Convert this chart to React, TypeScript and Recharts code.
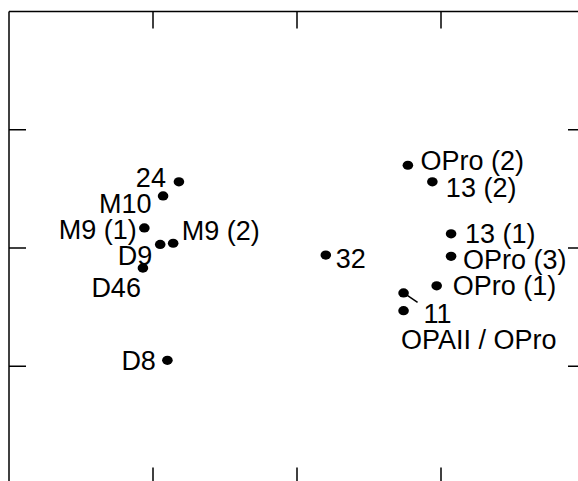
import React from "react";
import { ScatterChart, Scatter, XAxis, YAxis } from "recharts";

// Data
const names = ["24", "M10", "M9 (1)", "M9 (2)", "D9", "D46", "D8", "32", "OPro (2)", "13 (2)", "13 (1)", "OPro (3)", "OPro (1)", "11", "OPAII / OPro"];
const xs = [-0.82, -0.93, -1.06, -0.86, -0.95, -1.07, -0.90, 0.20, 0.77, 0.94, 1.07, 1.07, 0.97, 0.74, 0.74];
const ys = [0.56, 0.44, 0.17, 0.04, 0.03, -0.17, -0.95, -0.06, 0.70, 0.56, 0.12, -0.07, -0.32, -0.38, -0.53];

const xDomain = [-2, 2];
const yDomain = [-2, 2];
const xTicks = [-1, 0, 1];
const yTicks = [-1, 0, 1];

const data = names.map((n, i) => ({ name: n, x: xs[i], y: ys[i] }));

// Label layout (pixel offsets from each point) – style only
const labelLayout: Record<string, { dx: number; dy: number; anchor: "start" | "end"; leader?: number[] }> = {
  "24": { dx: -13, dy: -3.5, anchor: "end" },
  "M10": { dx: -11.5, dy: 8, anchor: "end" },
  "M9 (1)": { dx: -7.5, dy: 2.5, anchor: "end" },
  "M9 (2)": { dx: 8.5, dy: -12.5, anchor: "start" },
  "D9": { dx: -8, dy: 12, anchor: "end" },
  "D46": { dx: -2, dy: 19.5, anchor: "end" },
  "D8": { dx: -11.5, dy: 1, anchor: "end" },
  "32": { dx: 10, dy: 4, anchor: "start" },
  "OPro (2)": { dx: 12.5, dy: -4.5, anchor: "start" },
  "13 (2)": { dx: 13.5, dy: 6, anchor: "start" },
  "13 (1)": { dx: 14, dy: 0.5, anchor: "start" },
  "OPro (3)": { dx: 12, dy: 4, anchor: "start" },
  "OPro (1)": { dx: 16, dy: 0.5, anchor: "start" },
  "11": { dx: 20, dy: 21.5, anchor: "start", leader: [3, 2, 14, 9.5] },
  "OPAII / OPro": { dx: -2.5, dy: 29.5, anchor: "start" },
};

const FONT = "'Liberation Sans', Arial, Helvetica, sans-serif";

const PointShape = (props: any) => {
  const { cx, cy, payload } = props;
  if (cx == null || cy == null) return null;
  const l = labelLayout[payload.name];
  return (
    <g>
      <ellipse cx={cx} cy={cy} rx={5.3} ry={4.6} fill="#000" />
      {l && l.leader && (
        <line x1={cx + l.leader[0]} y1={cy + l.leader[1]} x2={cx + l.leader[2]} y2={cy + l.leader[3]} stroke="#000" strokeWidth={1.5} />
      )}
      {l && (
        <text x={cx + l.dx} y={cy + l.dy} textAnchor={l.anchor} dominantBaseline="central" fontFamily={FONT} fontSize={27} fill="#000">
          {payload.name}
        </text>
      )}
    </g>
  );
};

const NoTick = () => <g />;

const axisStyle = { stroke: "#000", strokeWidth: 1.5 };

export default function App() {
  return (
    <div style={{ position: "absolute", left: 0, top: 0 }}>
      <ScatterChart width={600} height={500} margin={{ top: 11.5, left: 9, right: 15, bottom: 15.5 }}>
        <XAxis xAxisId="b" type="number" dataKey="x" domain={xDomain} ticks={xTicks} orientation="bottom" mirror tick={NoTick} tickSize={17} height={1} axisLine={axisStyle} tickLine={axisStyle} allowDataOverflow />
        <XAxis xAxisId="t" type="number" dataKey="x" domain={xDomain} ticks={xTicks} orientation="top" mirror tick={NoTick} tickSize={17} height={1} axisLine={axisStyle} tickLine={axisStyle} allowDataOverflow />
        <YAxis yAxisId="l" type="number" dataKey="y" domain={yDomain} ticks={yTicks} orientation="left" mirror tick={NoTick} tickSize={17} width={1} axisLine={axisStyle} tickLine={axisStyle} allowDataOverflow />
        <YAxis yAxisId="r" type="number" dataKey="y" domain={yDomain} ticks={yTicks} orientation="right" mirror tick={NoTick} tickSize={17} width={1} axisLine={axisStyle} tickLine={axisStyle} allowDataOverflow />
        <Scatter data={data} xAxisId="b" yAxisId="l" shape={PointShape} isAnimationActive={false} />
      </ScatterChart>
    </div>
  );
}
